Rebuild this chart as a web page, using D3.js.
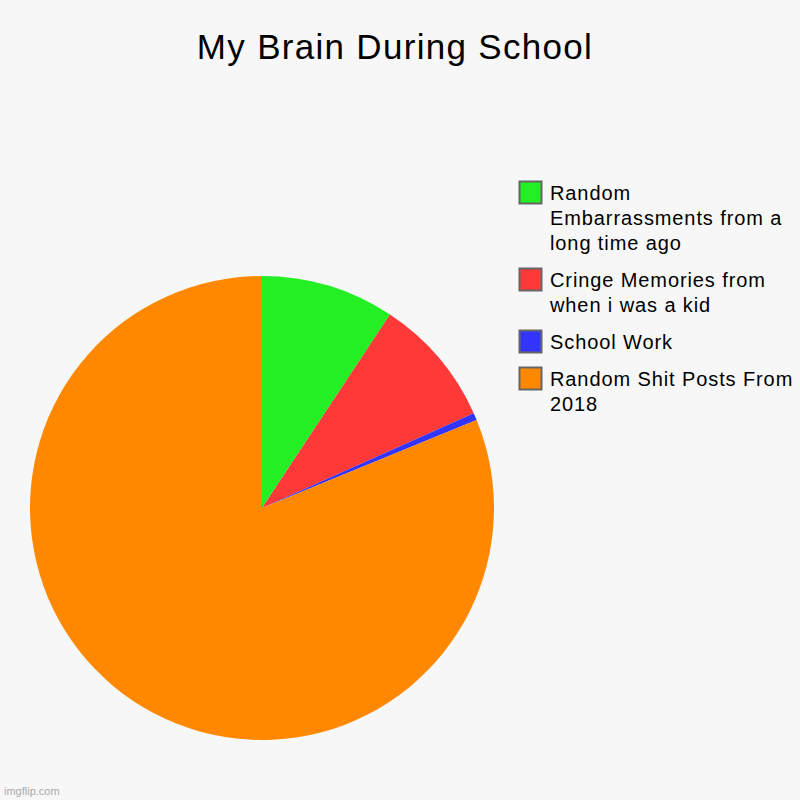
<!DOCTYPE html>
<html>
<head>
<meta charset="utf-8">
<script src="https://cdn.jsdelivr.net/npm/d3@7"></script>
<style>
  html, body { margin: 0; padding: 0; background: #f7f7f7; }
  svg { display: block; font-family: "Liberation Sans", Arial, sans-serif; }
</style>
</head>
<body>
<svg id="chart" width="800" height="800"></svg>
<script>
const title = "My Brain During School";
const categories = [
  "Random Embarrassments from a long time ago",
  "Cringe Memories from when i was a kid",
  "School Work",
  "Random Shit Posts From 2018"
];
const legendLines = [
  ["Random", "Embarrassments from a", "long time ago"],
  ["Cringe Memories from", "when i was a kid"],
  ["School Work"],
  ["Random Shit Posts From", "2018"]
];
const values = [9.3, 9.0, 0.5, 81.2];
const colors = ["#24ee24", "#ff3838", "#3434ff", "#ff8800"];

const svg = d3.select("#chart");
svg.append("rect").attr("width", 800).attr("height", 800).attr("fill", "#f7f7f7");

svg.append("text")
  .attr("x", 395).attr("y", 59)
  .attr("text-anchor", "middle")
  .attr("font-size", 35)
  .attr("letter-spacing", 1.3)
  .attr("fill", "#000")
  .text(title);

const cx = 262, cy = 508, r = 232;
const color = d3.scaleOrdinal().domain(categories).range(colors);
const pie = d3.pie().sort(null).value(d => d.value);
const arc = d3.arc().innerRadius(0).outerRadius(r);
const data = categories.map((c, i) => ({ name: c, value: values[i] }));

const g = svg.append("g").attr("transform", `translate(${cx},${cy})`);
g.selectAll("path")
  .data(pie(data))
  .join("path")
  .attr("d", arc)
  .attr("fill", d => color(d.data.name));

// Legend
const legend = svg.append("g");
const lineH = 25, gap = 12;
let y = 181;
categories.forEach((c, i) => {
  const item = legend.append("g").attr("transform", `translate(0,${y})`);
  item.append("rect")
    .attr("x", 519.5).attr("y", 0.5)
    .attr("width", 22).attr("height", 22)
    .attr("fill", color(c))
    .attr("stroke", "#666").attr("stroke-width", 2);
  const t = item.append("text")
    .attr("x", 550).attr("y", 19)
    .attr("font-size", 20)
    .attr("letter-spacing", 0.9)
    .attr("fill", "#000");
  legendLines[i].forEach((ln, j) => {
    t.append("tspan").attr("x", 550).attr("dy", j === 0 ? 0 : lineH).text(ln);
  });
  y += legendLines[i].length * lineH + gap;
});

svg.append("text")
  .attr("x", 4).attr("y", 795)
  .attr("font-size", 11)
  .attr("fill", "#aaa")
  .text("imgflip.com");
</script>
</body>
</html>
